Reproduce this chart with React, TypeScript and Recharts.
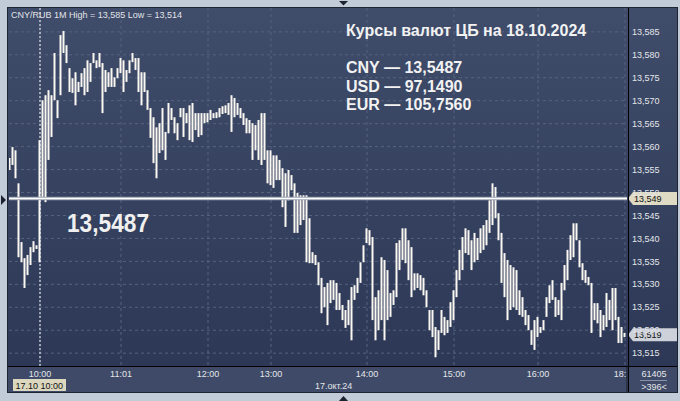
import React from 'react';
import { ComposedChart, Bar, XAxis, YAxis, CartesianGrid, ReferenceLine } from 'recharts';

// CNY/RUB 1-minute bars, grouped into equal time slots (high / low per slot)
const highs = [
  13.5575, 13.5599, 13.5592, 13.552, 13.5392, 13.5357, 13.5364, 13.5381, 13.5394, 13.5385,
  13.5614, 13.5701, 13.5712, 13.5723, 13.5712, 13.5804, 13.5701, 13.5843, 13.5852, 13.5821,
  13.5771, 13.5749, 13.5762, 13.5741, 13.576, 13.5771, 13.5788, 13.5782, 13.5804, 13.5788,
  13.5804, 13.5782, 13.5767, 13.5762, 13.5771, 13.5751, 13.5771, 13.5793, 13.5788, 13.5767,
  13.5788, 13.5804, 13.5793, 13.5793, 13.5762, 13.5762, 13.5723, 13.5684, 13.5664, 13.5642,
  13.5651, 13.5684, 13.5632, 13.5695, 13.5684, 13.5664, 13.5651, 13.5684, 13.5684, 13.5673,
  13.569, 13.5695, 13.5673, 13.5673, 13.5673, 13.5673, 13.5673, 13.568, 13.5673, 13.5675,
  13.5684, 13.5688, 13.569, 13.5695, 13.5712, 13.5706, 13.5695, 13.5684, 13.5673, 13.5662,
  13.5658, 13.5651, 13.5647, 13.5658, 13.5673, 13.5673, 13.5592, 13.5592, 13.5581, 13.5581,
  13.5571, 13.5553, 13.5542, 13.5549, 13.5538, 13.552, 13.5499, 13.5494, 13.5494, 13.5494,
  13.5444, 13.537, 13.5364, 13.5348, 13.5314, 13.5294, 13.5303, 13.5309, 13.5309, 13.5303,
  13.5281, 13.5255, 13.5244, 13.5266, 13.5294, 13.5298, 13.5314, 13.5348, 13.5385, 13.5422,
  13.5418, 13.5403, 13.5272, 13.5287, 13.5359, 13.5353, 13.5331, 13.5281, 13.5287, 13.539,
  13.5396, 13.5422, 13.5422, 13.5396, 13.5381, 13.5324, 13.5324, 13.532, 13.5314, 13.5287,
  13.5244, 13.5244, 13.5207, 13.52, 13.5244, 13.5229, 13.5222, 13.5261, 13.5287, 13.5331,
  13.5375, 13.5403, 13.5422, 13.5418, 13.5396, 13.5412, 13.5401, 13.5422, 13.5429, 13.544,
  13.5483, 13.552, 13.5512, 13.5455, 13.5412, 13.5368, 13.5353, 13.5342, 13.5337, 13.5331,
  13.5287, 13.5272, 13.5244, 13.5233, 13.52, 13.5222, 13.5229, 13.5207, 13.5222, 13.5272,
  13.5298, 13.5309, 13.5272, 13.5266, 13.5303, 13.5342, 13.5375, 13.5407, 13.5433, 13.5433,
  13.5396, 13.5346, 13.5331, 13.5316, 13.5303, 13.5259, 13.5259, 13.5244, 13.5233, 13.5281,
  13.5266, 13.5292, 13.5292, 13.5229, 13.5207, 13.5194,
];

const lows = [
  13.5549, 13.556, 13.5531, 13.5359, 13.5348, 13.5292, 13.532, 13.5342, 13.537, 13.5377,
  13.5348, 13.5488, 13.5479, 13.5571, 13.5621, 13.5701, 13.5662, 13.5712, 13.5804, 13.5782,
  13.5719, 13.5717, 13.569, 13.5719, 13.573, 13.5712, 13.5719, 13.5741, 13.5782, 13.5771,
  13.5773, 13.5673, 13.5719, 13.573, 13.573, 13.573, 13.5749, 13.576, 13.5719, 13.5741,
  13.576, 13.5784, 13.5767, 13.5719, 13.569, 13.5719, 13.568, 13.5619, 13.5564, 13.5531,
  13.5586, 13.5592, 13.5571, 13.5629, 13.5658, 13.5629, 13.5614, 13.5664, 13.5621, 13.5651,
  13.5614, 13.561, 13.5636, 13.5621, 13.5625, 13.5651, 13.5653, 13.5658, 13.5662, 13.5662,
  13.5664, 13.5671, 13.5673, 13.5669, 13.5632, 13.5664, 13.5669, 13.5662, 13.5647, 13.5629,
  13.5629, 13.5571, 13.5592, 13.5571, 13.556, 13.5571, 13.552, 13.5516, 13.551, 13.5527,
  13.5527, 13.5468, 13.5425, 13.5483, 13.5505, 13.5412, 13.5412, 13.5429, 13.544, 13.5348,
  13.5346, 13.5346, 13.5342, 13.5298, 13.5237, 13.525, 13.5211, 13.5259, 13.5266, 13.5244,
  13.5244, 13.5222, 13.5205, 13.5211, 13.5178, 13.5266, 13.5281, 13.5303, 13.5348, 13.539,
  13.5385, 13.5222, 13.5178, 13.52, 13.5222, 13.5178, 13.5222, 13.5229, 13.5255, 13.5272,
  13.5331, 13.5353, 13.5346, 13.5309, 13.5272, 13.5287, 13.5292, 13.5287, 13.5276, 13.525,
  13.52, 13.5185, 13.5141, 13.5157, 13.5194, 13.5189, 13.5194, 13.5207, 13.5222, 13.5272,
  13.5309, 13.5331, 13.5368, 13.5364, 13.5331, 13.5348, 13.5353, 13.5368, 13.5375, 13.5385,
  13.5412, 13.5429, 13.5444, 13.5396, 13.5303, 13.5272, 13.5222, 13.5244, 13.525, 13.5244,
  13.5233, 13.5229, 13.5211, 13.52, 13.5168, 13.5157, 13.5185, 13.5194, 13.52, 13.5229,
  13.5259, 13.5266, 13.5229, 13.5233, 13.5222, 13.5287, 13.5309, 13.5353, 13.5359, 13.5396,
  13.5337, 13.5309, 13.5303, 13.5298, 13.5194, 13.5222, 13.5215, 13.5185, 13.52, 13.5207,
  13.5222, 13.52, 13.5222, 13.5172, 13.5172, 13.5185,
];

const timeTickIdx = [10, 37, 66, 87, 119, 148, 176, 205];
const timeTickLabels = ['10:00', '11:01', '12:00', '13:00', '14:00', '15:00', '16:00', '18:00'];
const priceTicks = [13.515, 13.52, 13.525, 13.53, 13.535, 13.54, 13.545, 13.55, 13.555, 13.56, 13.565, 13.57, 13.575, 13.58, 13.585];
const rateCodes = ['CNY', 'USD', 'EUR'];
const rateValues = ['13,5487', '97,1490', '105,7560'];
const cnyRate = 13.5487;
const lastPrice = 13.519;
const sessionStartIdx = 10;
const volumeText = '61405';
const countText = '>396<';

const data = highs.map((h, i) => ({ i, range: [lows[i], h] }));

const FONT = '"Liberation Sans", Arial, sans-serif';
const fmt3 = (v: number) => v.toFixed(3).replace('.', ',');
const hi = Math.max(...highs);
const lo = Math.min(...lows);

const PriceTag = ({ viewBox, text, fill }: any) => {
  if (!viewBox) return null;
  const x = viewBox.x + viewBox.width;
  const y = viewBox.y;
  return (
    <g>
      <polygon
        points={`${x + 1},${y} ${x + 6},${y - 6.5} ${x + 50},${y - 6.5} ${x + 50},${y + 6.5} ${x + 6},${y + 6.5}`}
        fill={fill}
      />
      <text x={x + 7} y={y + 3.4} fontSize={9} fontFamily={FONT} fill="#111">
        {text}
      </text>
    </g>
  );
};

export default function App() {
  return (
    <div style={{ position: 'absolute', left: 0, top: 0, width: 680, height: 401, background: '#c2cbd8', overflow: 'hidden' }}>
      <div
        style={{
          position: 'absolute', left: 8, top: 8, width: 669, height: 358,
          background: 'linear-gradient(#3f4c6a, #2c3856)',
        }}
      />
      <div style={{ position: 'absolute', left: 8, top: 366, width: 669, height: 26, background: '#3e4a67' }} />
      <div style={{ position: 'absolute', left: 0, top: 0 }}>
        <ComposedChart
          width={680}
          height={401}
          data={data}
          margin={{ top: 8, right: 3, bottom: 9, left: 9 }}
          barGap={0}
        >
          <CartesianGrid
            stroke="#56637f"
            strokeDasharray="3 3"
            horizontalValues={priceTicks}
            verticalValues={timeTickIdx}
          />
          <XAxis
            dataKey="i"
            type="number"
            domain={[-1 / 3, highs.length - 1 / 3]}
            ticks={timeTickIdx}
            tickFormatter={(v: number) => timeTickLabels[timeTickIdx.indexOf(v)] ?? ''}
            axisLine={false}
            tickLine={false}
            tickSize={0}
            tickMargin={5}
            height={26}
            interval={0}
            allowDataOverflow
            tick={{ fontSize: 9, fill: '#e4e6ea', fontFamily: FONT }}
          />
          <YAxis
            orientation="right"
            type="number"
            domain={[13.5122, 13.5902]}
            ticks={priceTicks}
            tickFormatter={fmt3}
            axisLine={false}
            tickLine={false}
            tickSize={0}
            tickMargin={5}
            width={50}
            interval={0}
            allowDataOverflow
            tick={{ fontSize: 9, fill: '#e4e6ea', fontFamily: FONT, textAnchor: 'start' }}
          />
          <ReferenceLine x={sessionStartIdx} stroke="#ffffff" strokeDasharray="2 2" strokeWidth={1} />
          <Bar dataKey="range" fill="#fbf8f2" barSize={2} isAnimationActive={false} />
          <ReferenceLine y={cnyRate} stroke="#9aa2b3" strokeWidth={3.5} />
          <ReferenceLine
            y={cnyRate}
            stroke="#ffffff"
            strokeWidth={1.5}
            label={(p: any) => <PriceTag viewBox={p.viewBox} text={fmt3(cnyRate)} fill="#dedac4" />}
          />
          <ReferenceLine
            y={lastPrice}
            stroke="none"
            label={(p: any) => <PriceTag viewBox={p.viewBox} text={fmt3(lastPrice)} fill="#cdd1d9" />}
          />
        </ComposedChart>
      </div>
      <svg
        width={680}
        height={401}
        style={{ position: 'absolute', left: 0, top: 0, pointerEvents: 'none' }}
        fontFamily={FONT}
      >
        <rect x={7.5} y={7.5} width={670} height={385} fill="none" stroke="#1e2532" />
        <line x1={8} y1={366.5} x2={677} y2={366.5} stroke="#000" />
        <rect x={629} y={367} width={48} height={25} fill="#3e4a67" />
        <rect x={626} y={367} width={2} height={25} fill="#2b3449" />
        <line x1={628.5} y1={8} x2={628.5} y2={392} stroke="#000" />
        <text x={654} y={377} fontSize={9} fill="#e4e6ea" textAnchor="middle">{volumeText}</text>
        <line x1={640} y1={380.5} x2={667} y2={380.5} stroke="#8a93a6" />
        <text x={654} y={390} fontSize={9} fill="#e4e6ea" textAnchor="middle">{countText}</text>

        <text x={11} y={18} fontSize={9} fill="#e2e4e8">
          {`CNY/RUB 1M High = ${fmt3(hi)} Low = ${fmt3(lo)}`}
        </text>

        <text x={346} y={36} fontSize={16} fontWeight="bold" fill="#f2f2f2">Курсы валют ЦБ на 18.10.2024</text>
        {rateCodes.map((c, k) => (
          <text key={c} x={346} y={73 + k * 18.5} fontSize={16} fontWeight="bold" fill="#f2f2f2">
            {`${c} — ${rateValues[k]}`}
          </text>
        ))}
        <text x={67} y={232} fontSize={25} fontWeight="bold" fill="#f0f0f0" textLength={82} lengthAdjust="spacingAndGlyphs">
          {rateValues[0]}
        </text>

        <rect x={13} y={379} width={53} height={12} fill="#dcd8c0" />
        <text x={15.5} y={389} fontSize={9} fill="#111">17.10 10:00</text>
        <text x={315} y={389} fontSize={9} fill="#e4e6ea">17.окт.24</text>

        <polygon points="1,195 6,200 1,205" fill="#1c2230" />
        <polygon points="339,1 348,1 343.5,5.5" fill="#1c2230" />
        <polygon points="339,401 348,401 343.5,396" fill="#1c2230" />
      </svg>
    </div>
  );
}
